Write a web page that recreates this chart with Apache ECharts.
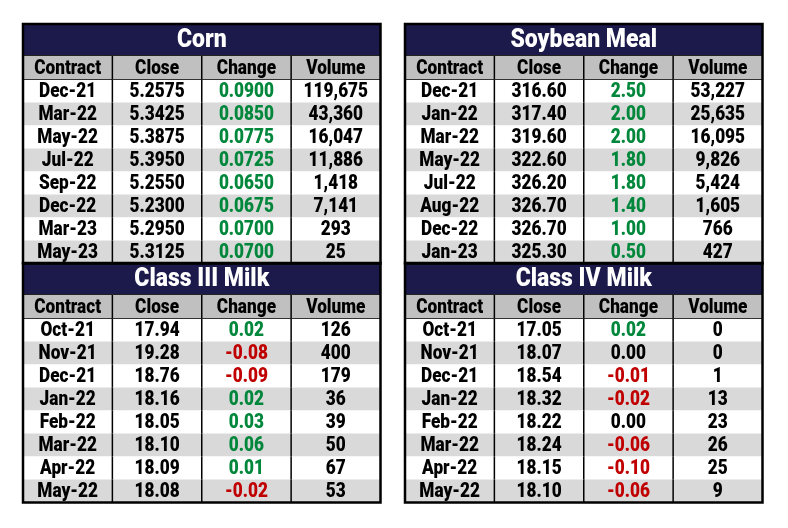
<!DOCTYPE html>
<html>
<head>
<meta charset="utf-8">
<script src="https://cdn.jsdelivr.net/npm/echarts@6/dist/echarts.min.js"></script>
<style>html,body{margin:0;padding:0;background:#fff;}#chart{width:788px;height:528px;}</style>
</head>
<body>
<div id="chart"></div>
<script>
// ---- data ----
const headers = ['Contract', 'Close', 'Change', 'Volume'];

const cornTitle = 'Corn';
const cornContracts = ['Dec-21','Mar-22','May-22','Jul-22','Sep-22','Dec-22','Mar-23','May-23'];
const cornClose = [5.2575, 5.3425, 5.3875, 5.3950, 5.2550, 5.2300, 5.2950, 5.3125];
const cornChange = [0.0900, 0.0850, 0.0775, 0.0725, 0.0650, 0.0675, 0.0700, 0.0700];
const cornVolume = [119675, 43360, 16047, 11886, 1418, 7141, 293, 25];

const soyTitle = 'Soybean Meal';
const soyContracts = ['Dec-21','Jan-22','Mar-22','May-22','Jul-22','Aug-22','Dec-22','Jan-23'];
const soyClose = [316.60, 317.40, 319.60, 322.60, 326.20, 326.70, 326.70, 325.30];
const soyChange = [2.50, 2.00, 2.00, 1.80, 1.80, 1.40, 1.00, 0.50];
const soyVolume = [53227, 25635, 16095, 9826, 5424, 1605, 766, 427];

const milk3Title = 'Class III Milk';
const milk3Contracts = ['Oct-21','Nov-21','Dec-21','Jan-22','Feb-22','Mar-22','Apr-22','May-22'];
const milk3Close = [17.94, 19.28, 18.76, 18.16, 18.05, 18.10, 18.09, 18.08];
const milk3Change = [0.02, -0.08, -0.09, 0.02, 0.03, 0.06, 0.01, -0.02];
const milk3Volume = [126, 400, 179, 36, 39, 50, 67, 53];

const milk4Title = 'Class IV Milk';
const milk4Contracts = ['Oct-21','Nov-21','Dec-21','Jan-22','Feb-22','Mar-22','Apr-22','May-22'];
const milk4Close = [17.05, 18.07, 18.54, 18.32, 18.22, 18.24, 18.15, 18.10];
const milk4Change = [0.02, 0.00, -0.01, -0.02, 0.00, -0.06, -0.10, -0.06];
const milk4Volume = [0, 0, 1, 13, 23, 26, 25, 9];

// ---- layout / style ----
const FONT = 'Roboto, "Noto Sans", sans-serif';
const SQUEEZE = 0.84, TITLE_SQUEEZE = 0.92;
const NAVY = '#1b1a4a';
const HEADER_BG = '#c0c0c0';
const ALT_BG = '#d9d9d9';
const GREEN = '#00873c';
const RED = '#c00000';
const TITLE_H = 31.5, HEADER_H = 24, ROW_H = 23;
const TOTAL_H = TITLE_H + HEADER_H + 8 * ROW_H;

const tables = [
  {title: cornTitle, contracts: cornContracts, close: cornClose, change: cornChange, volume: cornVolume, cd: 4, chd: 4, left: 23, top: 24},
  {title: soyTitle, contracts: soyContracts, close: soyClose, change: soyChange, volume: soyVolume, cd: 2, chd: 2, left: 405, top: 24},
  {title: milk3Title, contracts: milk3Contracts, close: milk3Close, change: milk3Change, volume: milk3Volume, cd: 2, chd: 2, left: 23, top: 263},
  {title: milk4Title, contracts: milk4Contracts, close: milk4Close, change: milk4Change, volume: milk4Volume, cd: 2, chd: 2, left: 405, top: 263}
];

function fmtVol(v) { return v.toString().replace(/\B(?=(\d{3})+(?!\d))/g, ','); }
function rowTop(r) {
  if (r <= -2) return 0;
  if (r === -1) return TITLE_H;
  return TITLE_H + HEADER_H + r * ROW_H;
}
function rowBottom(r) {
  if (r <= -2) return TITLE_H;
  if (r === -1) return TITLE_H + HEADER_H;
  return TITLE_H + HEADER_H + (r + 1) * ROW_H;
}

const grids = [], xAxes = [], yAxes = [], series = [];
tables.forEach(function (t, ti) {
  grids.push({left: t.left, top: t.top, width: 357.5, height: TOTAL_H});
  xAxes.push({type: 'value', gridIndex: ti, min: 0, max: 4, show: false});
  yAxes.push({type: 'value', gridIndex: ti, min: 0, max: TOTAL_H, inverse: true, show: false});
  const cells = [];
  cells.push({kind: 'title', col: 0, row: -2, text: t.title});
  headers.forEach(function (h, c) { cells.push({kind: 'header', col: c, row: -1, text: h}); });
  t.contracts.forEach(function (name, r) {
    const ch = t.change[r];
    cells.push({kind: 'body', col: 0, row: r, text: name, color: '#000'});
    cells.push({kind: 'body', col: 1, row: r, text: t.close[r].toFixed(t.cd), color: '#000'});
    cells.push({kind: 'body', col: 2, row: r, text: ch.toFixed(t.chd), color: ch > 0 ? GREEN : (ch < 0 ? RED : '#000')});
    cells.push({kind: 'body', col: 3, row: r, text: fmtVol(t.volume[r]), color: '#000'});
  });
  cells.push({kind: 'frame', col: 0, row: -3, text: ''});
  series.push({
    type: 'custom',
    xAxisIndex: ti,
    yAxisIndex: ti,
    clip: false,
    silent: true,
    data: cells.map(function (c) { return [c.col, c.row]; }),
    renderItem: function (params, api) {
      const cell = cells[params.dataIndex];
      const col = api.value(0), row = api.value(1);
      if (cell.kind === 'frame') {
        const p0 = api.coord([0, 0]), p1 = api.coord([4, TOTAL_H]);
        return {type: 'rect', z2: 100, shape: {x: p0[0], y: p0[1], width: p1[0] - p0[0], height: p1[1] - p0[1]},
          style: {fill: 'none', stroke: '#000', lineWidth: 2.5}};
      }
      const span = cell.kind === 'title' ? 4 : 1;
      const a = api.coord([col, rowTop(row)]);
      const b = api.coord([col + span, rowBottom(row)]);
      let bg = '#ffffff', fg = cell.color || '#000', size = 20.5, sq = SQUEEZE;
      if (cell.kind === 'title') { bg = NAVY; fg = '#ffffff'; size = 25; sq = TITLE_SQUEEZE; }
      else if (cell.kind === 'header') { bg = HEADER_BG; fg = '#000'; size = 20.5; }
      else if (row % 2 === 1) { bg = ALT_BG; }
      const cx = (a[0] + b[0]) / 2, cy = (a[1] + b[1]) / 2 + 1;
      const children = [
        {type: 'rect', shape: {x: a[0], y: a[1], width: b[0] - a[0], height: b[1] - a[1]}, style: {fill: bg}},
        {type: 'text', z2: 20, x: cx, y: cy, scaleX: sq, style: {text: cell.text, x: 0, y: 0,
          align: 'center', verticalAlign: 'middle', fill: fg, fontFamily: FONT, fontWeight: 900, fontSize: size}}
      ];
      if (cell.kind !== 'title' && col > 0) {
        children.push({type: 'line', z2: 30, shape: {x1: a[0], y1: a[1], x2: a[0], y2: b[1]}, style: {stroke: '#000', lineWidth: 1.5}});
      }
      if (cell.kind === 'header') {
        children.push({type: 'line', z2: 30, shape: {x1: a[0], y1: a[1], x2: b[0], y2: a[1]}, style: {stroke: '#222', lineWidth: 1}});
        children.push({type: 'line', z2: 30, shape: {x1: a[0], y1: b[1], x2: b[0], y2: b[1]}, style: {stroke: '#333', lineWidth: 1}});
      }
      return {type: 'group', children: children};
    }
  });
});

const chart = echarts.init(document.getElementById('chart'));
chart.setOption({
  animation: false,
  backgroundColor: '#ffffff',
  grid: grids,
  xAxis: xAxes,
  yAxis: yAxes,
  series: series
});
</script>
</body>
</html>
